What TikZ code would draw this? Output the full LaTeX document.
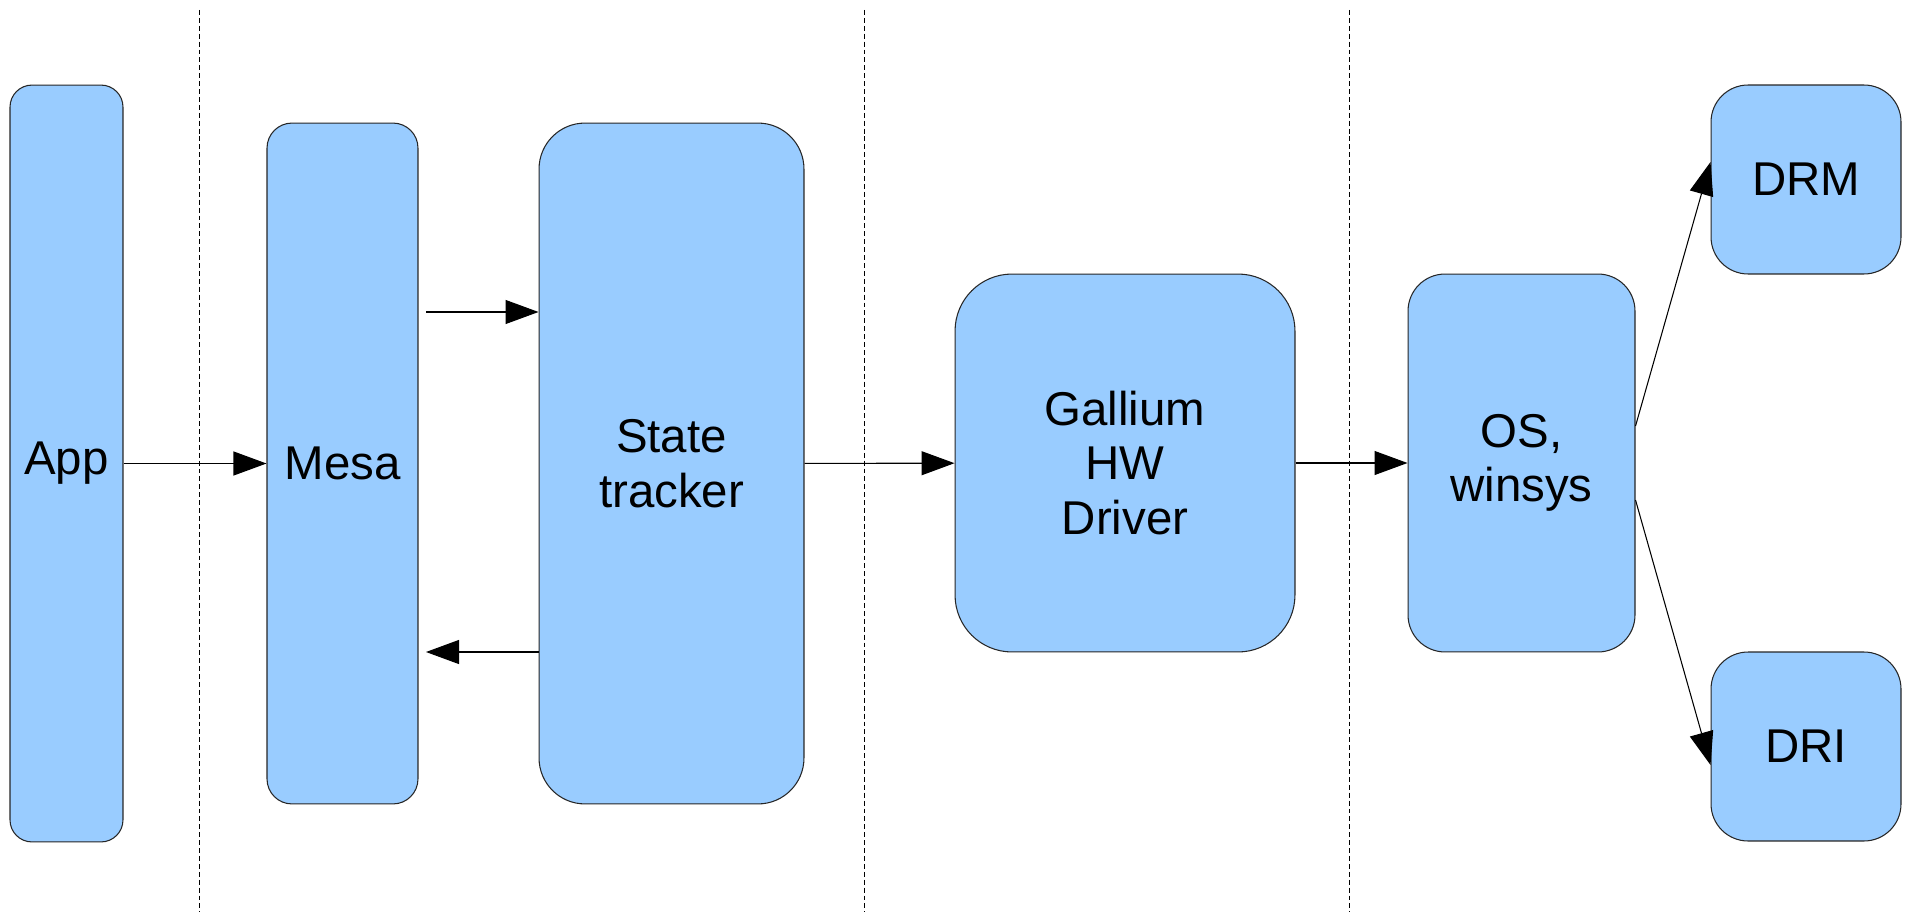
\documentclass[tikz,border=0pt]{standalone}
\usepackage{fontspec}
\setmainfont{Liberation Sans}
\usetikzlibrary{arrows.meta}

\definecolor{boxblue}{HTML}{99CCFF}
\tikzstyle{block} = [rectangle, draw=black!85, fill=boxblue, line width=0.6pt, inner sep=0pt, align=center, font=\fontsize{27}{31}\selectfont]
\tikzstyle{arrow} = [-{Triangle[length=0.66cm, width=0.48cm]}, line width=0.6pt]
\tikzstyle{divider} = [line width=0.5pt, dash pattern=on 2.8pt off 1.7pt]

\begin{document}
\begin{tikzpicture}[x=0.02cm, y=-0.02cm]
    \useasboundingbox (0,0) rectangle (1912,912);
    %\draw[step=100,gray,very thin] (0,0) grid (1912,912);
	\draw [divider] (199,10) -- (199,912);
	\draw [divider] (864,10) -- (864,912);
	\draw [divider] (1349,10) -- (1349,912);
	\node (App) at (66.5,463.5) [block, minimum width=2.26cm, minimum height=15.14cm, rounded corners=0.44cm] {App};
	\node (Mesa) at (342.5,463.5) [block, minimum width=3.02cm, minimum height=13.62cm, rounded corners=0.5cm] {Mesa};
	\node (State) at (671.5,463.5) [block, minimum width=5.3cm, minimum height=13.62cm, rounded corners=0.92cm] {State\\tracker};
	\node (Gallium) at (1125,463) [block, minimum width=6.8cm, minimum height=7.56cm, rounded corners=1.14cm] {Gallium\\HW\\Driver};
	\node (OS) at (1521.5,463) [block, minimum width=4.54cm, minimum height=7.56cm, rounded corners=0.74cm] {OS,\\winsys};
	\node (DRM) at (1806,179.5) [block, minimum width=3.8cm, minimum height=3.78cm, rounded corners=0.74cm] {DRM};
	\node (DRI) at (1806,746.5) [block, minimum width=3.8cm, minimum height=3.78cm, rounded corners=0.74cm] {DRI};
	\coordinate (MesaOut) at (426,312);
	\coordinate (MesaIn) at (426,652);
	\draw [arrow] (App) -- (Mesa);
	\draw [arrow] (MesaOut) -- (MesaOut -| State.west);
	\draw [arrow] (MesaIn -| State.west) -- (MesaIn);
	\draw [arrow] (State) -- (Gallium);
	\draw [arrow] (Gallium) -- (OS);
	\draw [arrow] ([yshift=0.74cm]OS.east) -- ([yshift=0.35cm]DRM.west);
	\draw [arrow] ([yshift=-0.74cm]OS.east) -- ([yshift=-0.37cm]DRI.west);
\end{tikzpicture}
\end{document}
